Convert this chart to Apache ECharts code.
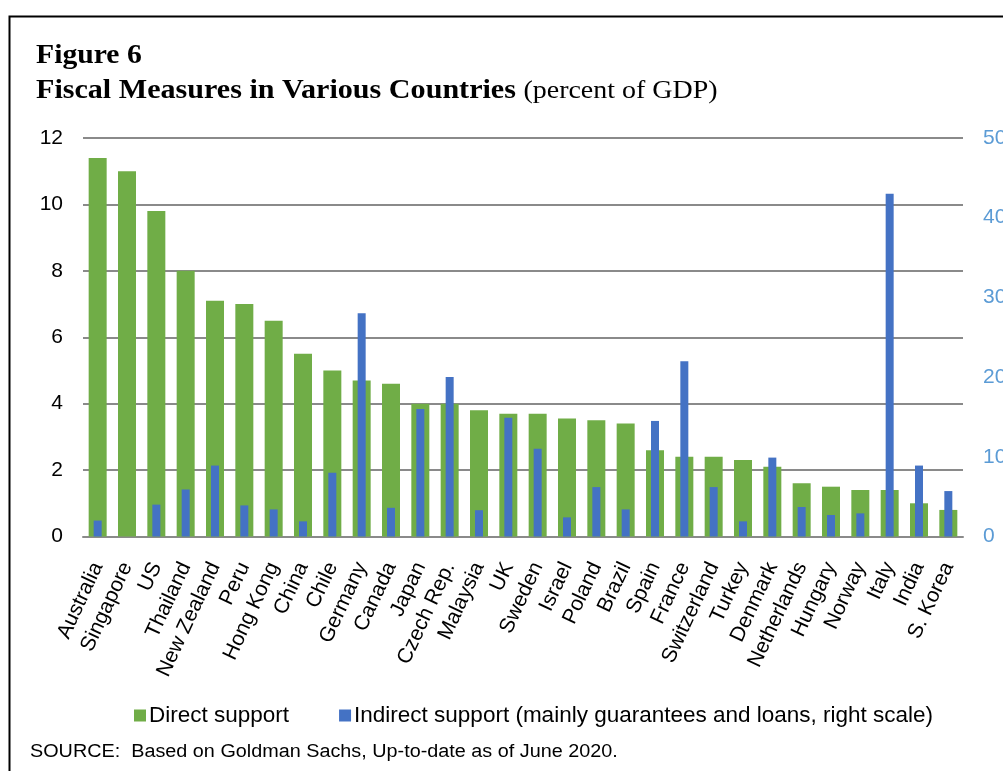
<!DOCTYPE html>
<html>
<head>
<meta charset="utf-8">
<script src="https://cdn.jsdelivr.net/npm/echarts@6/dist/echarts.min.js"></script>
<style>
html,body{margin:0;padding:0;background:#fff;}
#chart{width:1003px;height:771px;}
</style>
</head>
<body>
<div id="chart"></div>
<script>
const countries = ["Australia","Singapore","US","Thailand","New Zealand","Peru","Hong Kong","China","Chile","Germany","Canada","Japan","Czech Rep.","Malaysia","UK","Sweden","Israel","Poland","Brazil","Spain","France","Switzerland","Turkey","Denmark","Netherlands","Hungary","Norway","Italy","India","S. Korea"];
const directSupport = [11.4,11.0,9.8,8.0,7.1,7.0,6.5,5.5,5.0,4.7,4.6,4.0,4.0,3.8,3.7,3.7,3.55,3.5,3.4,2.6,2.4,2.4,2.3,2.1,1.6,1.5,1.4,1.4,1.0,0.8];
const indirectSupport = [2.0,0,4.0,5.9,8.9,3.9,3.4,1.9,8.0,28.0,3.6,16.0,20.0,3.3,14.9,11.0,2.4,6.2,3.4,14.5,22.0,6.2,1.9,9.9,3.7,2.7,2.9,43.0,8.9,5.7];
const leftTicks = {min:0,max:12,interval:2};
const rightTicks = {min:0,max:50,interval:10};

const chart = echarts.init(document.getElementById('chart'), null, {renderer:'canvas'});
const sans = 'Liberation Sans, Arial, sans-serif';
const serif = 'Liberation Serif, Times New Roman, serif';
chart.setOption({
  animation:false,
  backgroundColor:'#fff',
  graphic:[
    {type:'rect', shape:{x:9.5,y:16.5,width:1100,height:900}, style:{fill:'none',stroke:'#000',lineWidth:2}, silent:true},
    {type:'text', left:36, top:42, scaleX:1.06, style:{text:'Figure 6', font:'bold 28px '+serif, fill:'#000'}},
    {type:'text', left:36, top:77, scaleX:1.075, style:{
      text:'{b|Fiscal Measures in Various Countries}{n|(percent of GDP)}',
      rich:{b:{font:'bold 28px '+serif, fill:'#000'}, n:{font:'26px '+serif, fill:'#000', padding:[0,0,0,7]}}
    }},
    {type:'text', left:30, top:743, scaleX:1.1, style:{text:'SOURCE:  Based on Goldman Sachs, Up-to-date as of June 2020.', font:'18px '+sans, fill:'#000'}}
  ],
  legend:{
    left:129, top:699, itemWidth:12, itemHeight:12, itemGap:50,
    icon:'rect',
    textStyle:{fontFamily:sans, fontSize:22.5, color:'#000', padding:[0,0,0,-2]},
    data:['Direct support','Indirect support (mainly guarantees and loans, right scale)']
  },
  grid:{left:83, right:40, top:138, bottom:234.5, containLabel:false, outerBoundsMode:'none'},
  xAxis:[
    {type:'category', data:countries, axisTick:{show:false},
     axisLine:{lineStyle:{color:'#8a8a8a',width:2}},
     axisLabel:{interval:0, rotate:65, fontFamily:sans, fontSize:21, color:'#000', margin:27}},
    {type:'category', data:countries, show:false, position:'bottom'}
  ],
  yAxis:[
    {type:'value', min:leftTicks.min, max:leftTicks.max, interval:leftTicks.interval,
     axisLine:{show:false}, axisTick:{show:false},
     splitLine:{lineStyle:{color:'#8a8a8a',width:2}},
     axisLabel:{fontFamily:sans, fontSize:21, color:'#000', margin:20}},
    {type:'value', min:rightTicks.min, max:rightTicks.max, interval:rightTicks.interval, position:'right',
     axisLine:{show:false}, axisTick:{show:false}, splitLine:{show:false},
     axisLabel:{fontFamily:sans, fontSize:21, color:'#5B9BD5', margin:20, align:'left'}}
  ],
  series:[
    {name:'Direct support', type:'bar', xAxisIndex:0, yAxisIndex:0, data:directSupport, barWidth:18,
     itemStyle:{color:'#70AD47'}},
    {name:'Indirect support (mainly guarantees and loans, right scale)', type:'bar', xAxisIndex:1, yAxisIndex:1, data:indirectSupport, barWidth:8,
     itemStyle:{color:'#4472C4'}}
  ]
});
</script>
</body>
</html>
